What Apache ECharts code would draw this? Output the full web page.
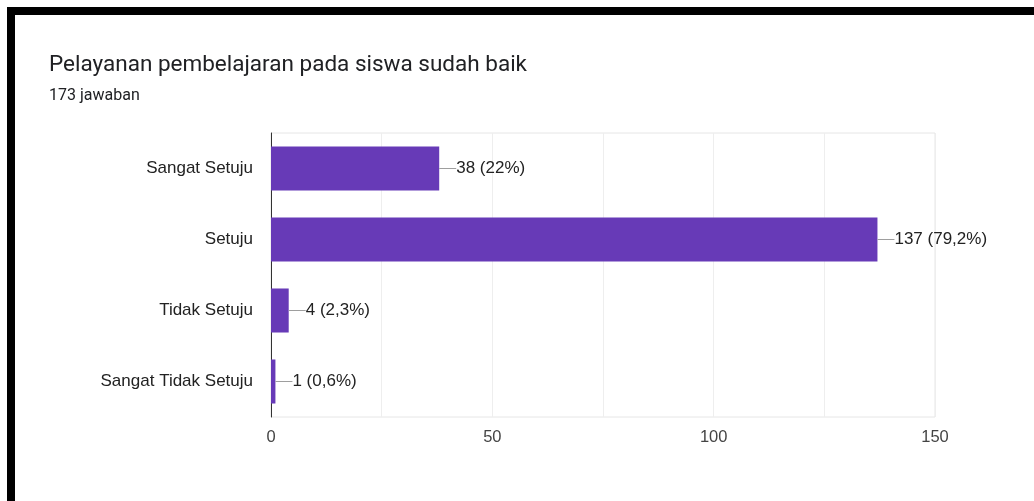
<!DOCTYPE html>
<html>
<head>
<meta charset="utf-8">
<script src="https://cdn.jsdelivr.net/npm/echarts@6/dist/echarts.min.js"></script>
<style>
html,body{margin:0;padding:0;background:#fff;}
#c{width:1034px;height:501px;}
</style>
</head>
<body>
<div id="c"></div>
<script>
const categories = ['Sangat Setuju', 'Setuju', 'Tidak Setuju', 'Sangat Tidak Setuju'];
const counts = [38, 137, 4, 1];
const percentLabels = ['22%', '79,2%', '2,3%', '0,6%'];
const xTicks = [0, 50, 100, 150];

const chart = echarts.init(document.getElementById('c'));
chart.setOption({
  animation: false,
  backgroundColor: '#fff',
  textStyle: { fontFamily: 'Liberation Sans' },
  title: [
    {
      text: 'Pelayanan pembelajaran pada siswa sudah baik',
      left: 44, top: 49,
      textStyle: { fontFamily: 'Roboto', fontSize: 22.5, fontWeight: 'normal', color: '#202124' }
    },
    {
      text: '173 jawaban',
      left: 44, top: 83,
      textStyle: { fontFamily: 'Roboto', fontSize: 16, fontWeight: 'normal', color: '#202124' }
    }
  ],
  graphic: [
    { type: 'rect', shape: { x: 7, y: 7, width: 1027, height: 8 }, style: { fill: '#000' }, z: 100 },
    { type: 'rect', shape: { x: 7, y: 7, width: 8, height: 494 }, style: { fill: '#000' }, z: 100 }
  ],
  grid: {
    left: 271, right: 99, top: 133, bottom: 84,
    show: true, borderColor: '#e6e6e6', borderWidth: 1
  },
  xAxis: {
    type: 'value', min: 0, max: 150, interval: 25,
    axisLine: { show: false },
    axisTick: { show: false },
    splitLine: { show: true, lineStyle: { color: '#eeeeee', width: 1 } },
    axisLabel: {
      fontFamily: 'Liberation Sans', fontSize: 16.5, color: '#444', margin: 12,
      formatter: v => (xTicks.indexOf(v) >= 0 ? String(v) : '')
    }
  },
  yAxis: {
    type: 'category', data: categories, inverse: true,
    axisLine: { show: true, lineStyle: { color: '#333', width: 1 } },
    axisTick: { show: false },
    axisLabel: { fontFamily: 'Liberation Sans', fontSize: 17, color: '#222', margin: 18 }
  },
  series: [{
    type: 'bar',
    data: counts,
    barCategoryGap: '38%',
    itemStyle: { color: '#673ab7' },
    label: {
      show: true, position: 'right', distance: 0,
      formatter: p => '{ln|}{t|' + p.value + ' (' + percentLabels[p.dataIndex] + ')}',
      rich: {
        ln: { width: 17, height: 1, backgroundColor: '#9e9e9e', verticalAlign: 'middle' },
        t: { fontFamily: 'Liberation Sans', fontSize: 17, color: '#222', verticalAlign: 'middle' }
      }
    }
  }]
});
</script>
</body>
</html>
